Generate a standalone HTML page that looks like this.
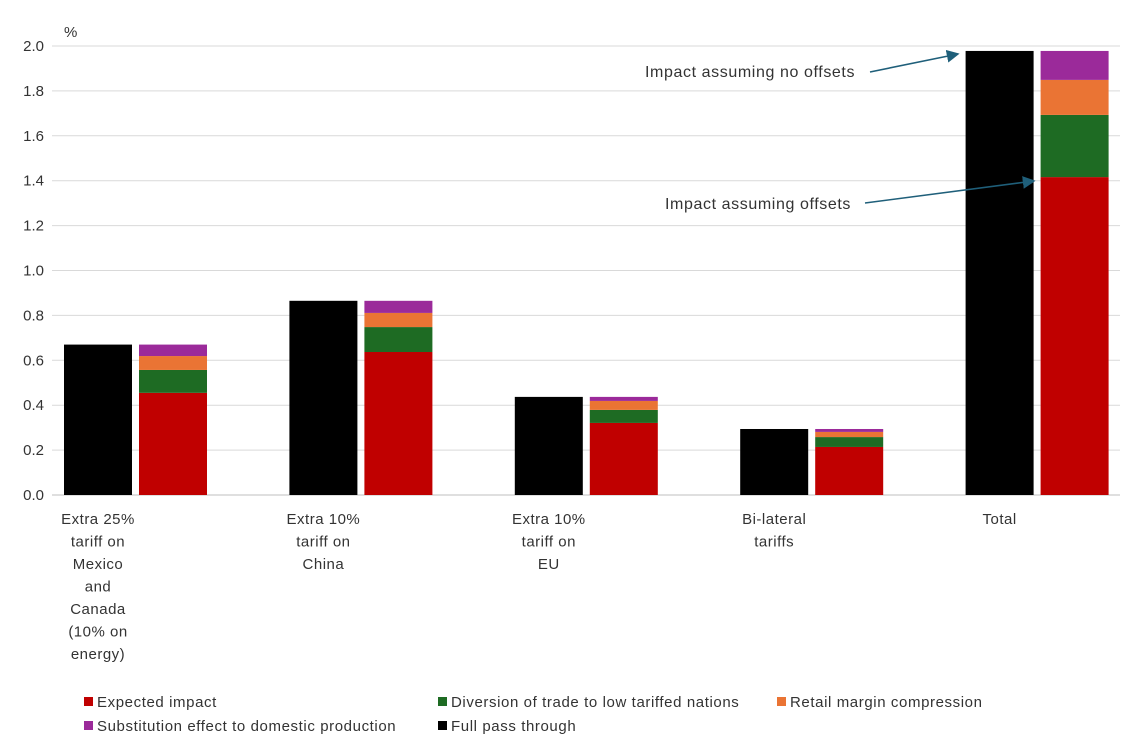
<!DOCTYPE html>
<html><head><meta charset="utf-8"><style>
body{margin:0;background:#fff;}
svg text{font-family:"Liberation Sans",Arial,sans-serif;fill:#333;}
</style></head><body>
<svg id="chart" width="1140" height="749" xmlns="http://www.w3.org/2000/svg">
<defs><marker id="ah" markerWidth="8" markerHeight="8" refX="7" refY="4" orient="auto"><path d="M0,0 L8,4 L0,8 z" fill="#1f5f7a"/></marker></defs>
<g id="grid"></g><g id="bars"></g><g id="labels"></g>
<text x="64" y="37" font-size="15">%</text>
<line x1="870" y1="72" x2="958" y2="54" stroke="#1f5f7a" stroke-width="1.6" marker-end="url(#ah)"/>
<text x="645" y="77" font-size="16" letter-spacing="0.6">Impact assuming no offsets</text>
<line x1="865" y1="203" x2="1034" y2="181" stroke="#1f5f7a" stroke-width="1.6" marker-end="url(#ah)"/>
<text x="665" y="209" font-size="16" letter-spacing="0.6">Impact assuming offsets</text>
<g id="legend"></g>
</svg>
<script>
const categories=[["Extra 25%","tariff on","Mexico","and","Canada","(10% on","energy)"],["Extra 10%","tariff on","China"],["Extra 10%","tariff on","EU"],["Bi-lateral","tariffs"],["Total"]];
const fullPass=[0.67,0.865,0.437,0.294,1.978];
const expected=[0.455,0.637,0.321,0.214,1.416];
const diversion=[0.102,0.111,0.058,0.044,0.277];
const retail=[0.062,0.063,0.040,0.023,0.156];
const substitution=[0.051,0.054,0.018,0.013,0.129];
const yTicks=[0,0.2,0.4,0.6,0.8,1.0,1.2,1.4,1.6,1.8,2.0];
const NS="http://www.w3.org/2000/svg";
const y=v=>495-v*224.5;
const gx=i=>52+i*225.4;
function mk(t,a,p){const e=document.createElementNS(NS,t);for(const k in a)e.setAttribute(k,a[k]);p.appendChild(e);return e;}
const grid=document.getElementById('grid'),bars=document.getElementById('bars'),labels=document.getElementById('labels'),legend=document.getElementById('legend');
yTicks.forEach(v=>{
 const l=mk('line',{x1:52,x2:1120,y1:y(v),y2:y(v),stroke:v===0?'#bfbfbf':'#d9d9d9','stroke-width':1},grid);
 
 
 const t=mk('text',{x:44,y:y(v)+5,'text-anchor':'end','font-size':15},grid);t.textContent=v.toFixed(1);
 
 
});
const series=[["expected",expected,"#c00000"],["diversion",diversion,"#1e6b23"],["retail",retail,"#ea7434"],["substitution",substitution,"#9b2a9a"]];
categories.forEach((c,i)=>{
 const x0=gx(i)+12;
 const b=mk('rect',{x:x0,y:y(fullPass[i]),width:68,height:y(0)-y(fullPass[i]),fill:'#000'},bars);
 
 
 let cum=0;
 series.forEach(s=>{
  const v=s[1][i];
  const r=mk('rect',{x:x0+75,y:y(cum+v),width:68,height:y(cum)-y(cum+v),fill:s[2]},bars);
  
  
  cum+=v;
 });
 c.forEach((line,j)=>{
  const t=mk('text',{x:x0+34,y:524+j*22.5,'text-anchor':'middle','font-size':15,'letter-spacing':0.5},labels);t.textContent=line;
  
  
 });
});
const leg=[["Expected impact","#c00000",84,702],["Diversion of trade to low tariffed nations","#1e6b23",438,702],["Retail margin compression","#ea7434",777,702],["Substitution effect to domestic production","#9b2a9a",84,726],["Full pass through","#000",438,726]];
leg.forEach(l=>{
 const g=mk('g',{},legend);
 
 
 mk('rect',{x:l[2],y:l[3]-5,width:9,height:9,fill:l[1]},g);
 const t=mk('text',{x:l[2]+13,y:l[3]+5,'font-size':15,'letter-spacing':0.6},g);t.textContent=l[0];
});
</script>
</body></html>
